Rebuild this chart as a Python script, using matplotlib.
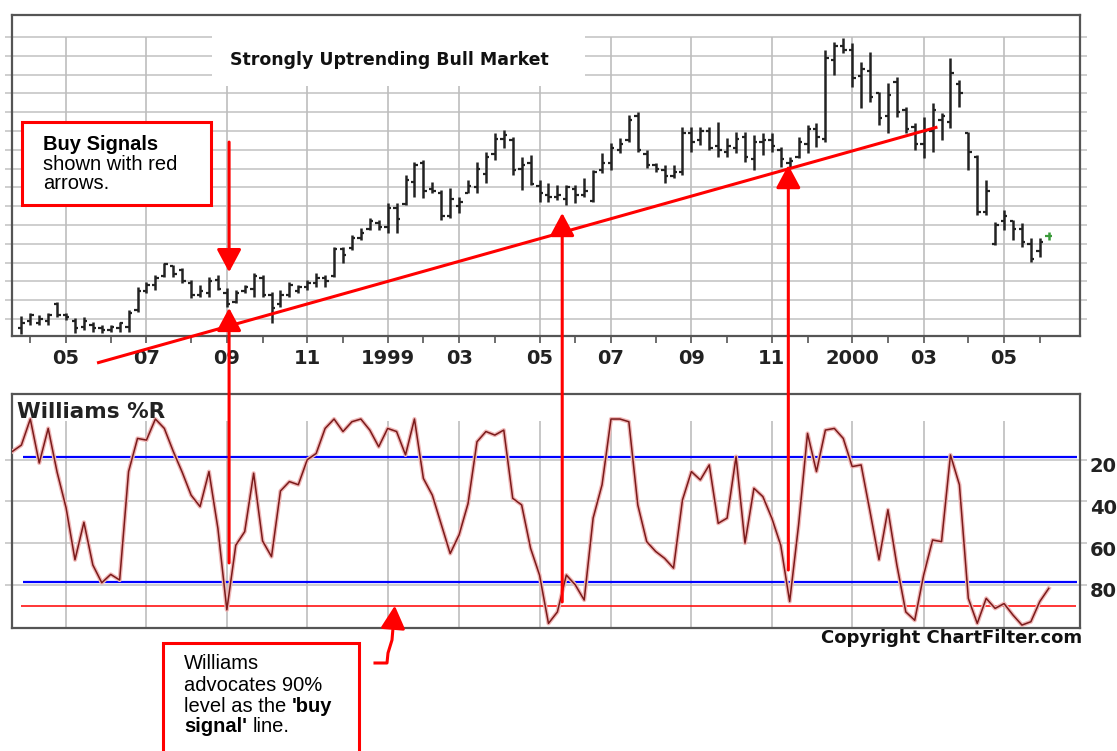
import numpy as np
import pandas as pd
import matplotlib
matplotlib.use('Agg')
import matplotlib.pyplot as plt
from matplotlib.patches import Rectangle, ConnectionPatch, ArrowStyle
from matplotlib.lines import Line2D
from matplotlib.text import Annotation
from matplotlib.transforms import ScaledTranslation, IdentityTransform

# weekly bars (Friday closes), the New Year 1999 week closed on Thu Dec 31
week = pd.date_range('1998-03-20', '2000-06-09', freq='W-FRI')
week = pd.DatetimeIndex([pd.Timestamp('1998-12-31') if d == pd.Timestamp('1999-01-01') else d
                         for d in week])

# price bars start one week after the %R line (Mar 27 1998), units = chart grid steps
highs = [1.16, 1.32, 1.21, 1.32, 1.90, 1.32, 1.05, 1.11, 0.84, 0.68, 0.68, 0.84, 1.48, 2.70,
         2.97, 3.34, 3.98, 3.87, 3.71, 3.07, 2.81, 3.24, 3.34, 2.65, 2.54, 2.81, 3.45, 3.34,
         2.44, 2.54, 2.97, 2.81, 3.07, 3.45, 3.34, 4.83, 4.83, 5.47, 5.84, 6.37, 6.27, 7.17,
         7.17, 8.66, 9.35, 9.46, 8.29, 7.86, 7.97, 7.49, 8.39, 9.35, 9.88, 10.89, 11.05, 10.68,
         9.62, 9.72, 8.39, 8.23, 8.13, 8.13, 8.13, 8.50, 8.93, 9.83, 10.36, 10.63, 11.85, 12.01,
         9.99, 9.30, 9.19, 9.19, 11.21, 11.21, 11.21, 11.21, 11.48, 10.63, 10.95, 10.95, 10.79,
         10.89, 10.89, 10.15, 9.62, 10.68, 11.32, 11.42, 15.31, 15.73, 15.95, 15.68, 14.67, 15.20,
         13.07, 13.55, 13.87, 12.28, 11.42, 11.74, 12.49, 11.96, 14.88, 13.71, 10.95, 9.72, 8.39,
         6.16, 6.80, 6.27, 6.10, 5.31, 5.31, 5.63]
lows = [0.20, 0.68, 0.68, 0.68, 1.11, 0.95, 0.26, 0.41, 0.31, 0.26, 0.31, 0.31, 0.31, 1.37,
        2.38, 2.54, 3.24, 3.24, 2.91, 2.12, 2.17, 2.17, 2.54, 1.64, 1.85, 2.38, 2.17, 2.17,
        0.79, 1.64, 2.17, 2.38, 2.54, 2.70, 2.70, 3.24, 3.98, 4.67, 5.20, 5.73, 5.73, 5.57,
        5.57, 7.06, 7.49, 7.43, 7.70, 6.27, 6.37, 6.64, 7.70, 7.70, 8.23, 9.46, 10.10, 8.66,
        7.86, 8.13, 7.22, 7.22, 7.33, 7.06, 7.17, 7.49, 7.22, 8.77, 8.93, 9.83, 10.41, 9.88,
        9.03, 8.82, 8.23, 8.50, 8.66, 9.88, 10.26, 9.99, 9.62, 9.62, 9.83, 9.35, 8.93,
        9.72, 9.88, 9.09, 9.03, 9.56, 9.83, 10.15, 10.41, 13.98, 15.15, 13.34, 12.22, 12.54,
        11.32, 10.89, 11.74, 10.89, 9.99, 9.56, 9.88, 10.52, 11.16, 12.28, 8.93, 6.53, 6.53,
        4.94, 5.73, 5.20, 4.83, 4.03, 4.30, 5.20]
opens = [0.5, 0.9, 0.8, 0.9, 1.8, 1.2, 0.9, 0.6, 0.7, 0.5, 0.4, 0.5, 0.6, 1.5,
         2.5, 2.8, 3.3, 3.8, 3.6, 2.9, 2.3, 2.4, 3.1, 2.4, 1.9, 2.5, 2.6, 3.2,
         2.3, 1.8, 2.3, 2.5, 2.7, 2.9, 3.2, 3.3, 4.7, 4.8, 5.3, 5.8, 6.1, 5.9,
         6.9, 7.1, 8.3, 9.3, 7.9, 7.7, 6.5, 7.0, 7.7, 8.0, 8.7, 9.8, 10.6, 10.5,
         9.0, 9.3, 8.1, 7.6, 7.5, 7.4, 7.9, 7.6, 7.3, 8.9, 9.3, 10.0, 10.5, 11.8,
         9.8, 9.2, 8.9, 8.6, 8.8, 10.9, 10.5, 11.0, 10.2, 9.9, 10.1, 10.7, 9.5,
         10.4, 10.5, 10.0, 9.3, 9.6, 10.3, 11.1, 10.6, 14.8, 15.5, 15.3, 13.9, 14.2,
         13.0, 11.8, 13.6, 12.1, 11.2, 10.3, 11.0, 11.6, 11.5, 13.5, 10.9, 9.6, 6.7,
         5.0, 6.2, 6.2, 5.8, 5.0, 4.6, 5.4]
closes = [0.8, 1.2, 1.0, 1.2, 1.2, 1.1, 0.5, 0.9, 0.5, 0.4, 0.6, 0.8, 1.3, 2.5,
          2.8, 3.2, 3.9, 3.4, 3.0, 2.3, 2.5, 3.0, 2.6, 1.8, 2.4, 2.7, 3.3, 2.3,
          1.6, 2.3, 2.8, 2.7, 2.9, 3.2, 3.0, 4.7, 4.4, 5.3, 5.6, 6.2, 5.9, 6.9,
          6.3, 8.4, 9.2, 7.8, 7.8, 6.5, 7.4, 7.2, 8.1, 9.0, 9.6, 10.6, 10.8, 8.9,
          9.2, 8.2, 7.7, 7.5, 7.6, 8.0, 7.6, 7.8, 8.8, 9.3, 10.1, 10.3, 11.6, 10.0,
          9.2, 9.0, 8.6, 8.8, 10.9, 10.4, 11.0, 10.1, 10.0, 10.2, 10.6, 9.6, 10.4,
          10.5, 10.2, 9.5, 9.4, 10.4, 11.1, 10.7, 14.9, 15.5, 15.3, 13.8, 14.3, 12.8,
          11.7, 12.9, 12.0, 11.1, 10.3, 11.0, 12.1, 11.8, 14.1, 13.0, 9.9, 6.7, 7.8,
          6.0, 6.5, 5.8, 5.1, 4.2, 5.1, 5.4]

# Williams %R (0 = top, 100 = bottom), one value per week from Mar 20 1998
williams = [16, 13, 0.5, 21.6, 5, 26, 43, 68, 50, 70.5, 79, 75, 77.7, 25.7, 9.8, 10.6, 0.5,
            5, 16, 26, 37, 42.5, 25.7, 53, 92, 61, 54.5, 26.5, 59, 66.5, 35, 30.5, 32, 20,
            17, 5, 0.5, 6.5, 1.8, 0.5, 5.8, 13.8, 5, 6.5, 17.7, 0.5, 29, 37, 51, 65, 56, 41,
            11.4, 6.5, 8.2, 5.8, 38.5, 41.7, 62.5, 75.3, 98.5, 93, 75.3, 80, 87.3, 48, 32,
            0.5, 0.5, 1.8, 41.7, 59.3, 64, 67.3, 72, 39.3, 25.7, 29.7, 22.5, 50.5, 48, 18.5,
            60, 33.7, 37.7, 48, 61, 88, 51.3, 7.4, 25.7, 5.8, 5, 9.8, 23.3, 22.5, 45, 68, 44,
            70.5, 93, 97, 75.3, 58.5, 59.3, 17.7, 32, 86.5, 98.5, 86.5, 91.3, 89, 94.5, 99.3,
            97.7, 88, 81.7]

# annotation anchors (week position, value)
buy_weeks = [24.25, 61.54, 86.85]
buy_tips = [1.59, 6.64, 9.19]
buy_tails = [69.5, 88.2, 72.9]
trend_x = [9.47, 103.54]
trend_y = [-1.34, 11.21]

x = np.arange(len(week))
xb = x[1:]

# first bar of every month; odd months carry the labels
pos = pd.Series(x, index=week)
firsts = pos.groupby([week.year, week.month]).min().iloc[1:]
major_pos = [p for (yr, mo), p in firsts.items() if mo % 2 == 1]
major_lab = [str(yr) if mo == 1 else '%02d' % mo for (yr, mo), p in firsts.items() if mo % 2 == 1]
minor_pos = [p for (yr, mo), p in firsts.items() if mo % 2 == 0]

W, H = 1117, 751
def fx(px):
    return px / W
def fy(py):
    return 1 - py / H

fig = plt.figure(figsize=(W / 100, H / 100), dpi=100)
fig.patch.set_facecolor('white')
ax = fig.add_axes([fx(12), fy(336), (1080 - 12) / W, (336 - 15) / H])
axr = fig.add_axes([fx(12), fy(628), (1080 - 12) / W, (628 - 394) / H])

xlim = (-0.05, 119.5)
grid_c = '#c6c6c6'

# ---- price panel
ax.set_xlim(*xlim)
ax.set_ylim(0.096, 17.17)
ax.hlines(np.arange(1, 17), *xlim, color=grid_c, lw=1.2, zorder=0.5)
ax.vlines(major_pos, 0.096, 16, color='#bdbdbd', lw=1.2, zorder=0.5)
ax.add_patch(Rectangle((fx(212), fy(86)), (585 - 212) / W, (86 - 20) / H,
                       transform=fig.transFigure, facecolor='white', edgecolor='none', zorder=0.8))

bar_c = ['#222222'] * (len(xb) - 1) + ['#3a9a3a']
ax.vlines(xb, lows, highs, colors=bar_c, lw=1.8, zorder=3)
ax.hlines(opens, xb - 0.38, xb, colors=bar_c, lw=1.6, zorder=3)
ax.hlines(closes, xb, xb + 0.38, colors=bar_c, lw=1.6, zorder=3)

ax.plot(trend_x, trend_y, color='#ff0000', lw=2.2, clip_on=False, zorder=4, solid_capstyle='butt')

ax.set_xticks(major_pos)
ax.set_xticklabels(major_lab, fontsize=14, fontweight='bold', color='#222222')
ax.set_xticks(minor_pos, minor=True)
ax.tick_params(axis='x', which='both', direction='out', length=5, width=1.2, color='#555555', pad=4)
ax.set_yticks(np.arange(1, 17))
ax.tick_params(axis='y', left=True, right=True, labelleft=False, length=5, width=1.2, color=grid_c)
for s in ax.spines.values():
    s.set_color('#555555')
    s.set_linewidth(1.6)

fig.text(fx(389), fy(65), 'Strongly Uptrending Bull Market', ha='center', va='baseline',
         fontsize=12.5, fontweight='bold', color='#111111')

# ---- Williams %R panel
axr.set_xlim(*xlim)
axr.set_ylim(100.7, -11.5)
axr.hlines([20, 40, 60, 80], *xlim, color=grid_c, lw=1.2, zorder=0.5)
axr.vlines(major_pos, 1.5, 100.7, color='#bdbdbd', lw=1.2, zorder=0.5)
axr.hlines([18.7, 78.7], 1.2, 119.2, color='#0000ff', lw=1.6, zorder=2)
axr.hlines(90, 1.0, 119.0, color='#ff0000', lw=1.1, zorder=2)
axr.plot(x, williams, color='#f0b8b8', lw=3.0, zorder=3)
axr.plot(x, williams, color='#7a1a1a', lw=1.1, zorder=4)
axr.set_xticks([])
axr.set_yticks([20, 40, 60, 80])
axr.tick_params(axis='y', left=True, right=True, labelleft=False, labelright=True,
                length=5, width=1.2, color=grid_c, pad=2, labelsize=14)
for lab in axr.get_yticklabels():
    lab.set_fontweight('bold')
    lab.set_color('#222222')
    lab.set_transform(lab.get_transform() + ScaledTranslation(0, -0.05, fig.dpi_scale_trans))
for s in axr.spines.values():
    s.set_color('#555555')
    s.set_linewidth(1.6)

fig.text(fx(17), fy(418), 'Williams %R', ha='left', va='baseline', fontsize=15.5,
         fontweight='bold', color='#222222')
fig.text(fx(1082), fy(643), 'Copyright ChartFilter.com', ha='right', va='baseline',
         fontsize=13, fontweight='bold', color='#111111')

# ---- buy signal arrows
head = ArrowStyle('-|>', head_length=14, head_width=7.5)
def red_arrow(xyA, coordsA, xyB, coordsB):
    con = ConnectionPatch(xyA=xyA, coordsA=coordsA, xyB=xyB, coordsB=coordsB, arrowstyle=head,
                          color='#ff0000', lw=2.2, shrinkA=0, shrinkB=0, mutation_scale=1, zorder=6)
    fig.add_artist(con)

red_arrow((buy_weeks[0], 10.41), ax.transData, (buy_weeks[0], 3.49), ax.transData)
for bx, tip, tail in zip(buy_weeks, buy_tips, buy_tails):
    red_arrow((bx, tail), axr.transData, (bx, tip), ax.transData)

# ---- callout boxes
sans = ['Liberation Sans', 'DejaVu Sans']
fs = 14.5

def after(prev, s, **kw):
    # continue a line of text right after another text artist
    a = Annotation(s, xy=(1, 0), xycoords=prev, xytext=(4, 0), textcoords='offset points',
                   family=sans, fontsize=fs, va='bottom', ha='left', annotation_clip=False, **kw)
    a.set_transform(IdentityTransform())
    a.set_zorder(7)
    fig.add_artist(a)

fig.add_artist(Rectangle((fx(22), fy(205)), (211 - 22) / W, (205 - 122) / H, transform=fig.transFigure,
                         facecolor='white', edgecolor='#ff0000', lw=2.2, zorder=5))
fig.text(fx(43), fy(150), 'Buy Signals', family=sans, fontsize=fs, fontweight='bold', va='baseline', zorder=7)
fig.text(fx(43), fy(170), 'shown with red', family=sans, fontsize=fs, va='baseline', zorder=7)
fig.text(fx(43), fy(189), 'arrows.', family=sans, fontsize=fs, va='baseline', zorder=7)

fig.add_artist(Rectangle((fx(163), fy(760)), (359 - 163) / W, (760 - 643) / H, transform=fig.transFigure,
                         facecolor='white', edgecolor='#ff0000', lw=2.2, zorder=5))
fig.text(fx(184), fy(669), 'Williams', family=sans, fontsize=fs, va='baseline', zorder=7)
fig.text(fx(184), fy(691), 'advocates 90%', family=sans, fontsize=fs, va='baseline', zorder=7)
t3 = fig.text(fx(184), fy(712), 'level as the', family=sans, fontsize=fs, va='baseline', zorder=7)
after(t3, "'buy", fontweight='bold')
t4 = fig.text(fx(184), fy(732), "signal'", family=sans, fontsize=fs, fontweight='bold', va='baseline', zorder=7)
after(t4, 'line.')

squig_x = [375, 387, 388, 392, 393]
squig_y = [663, 663, 653, 640, 628]
fig.add_artist(Line2D([fx(v) for v in squig_x], [fy(v) for v in squig_y], transform=fig.transFigure,
                      color='#ff0000', lw=2.2, zorder=6))
red_arrow((393, H - 628), 'figure pixels', (42.8, 90), axr.transData)

fig.savefig('out.png', dpi=100)
